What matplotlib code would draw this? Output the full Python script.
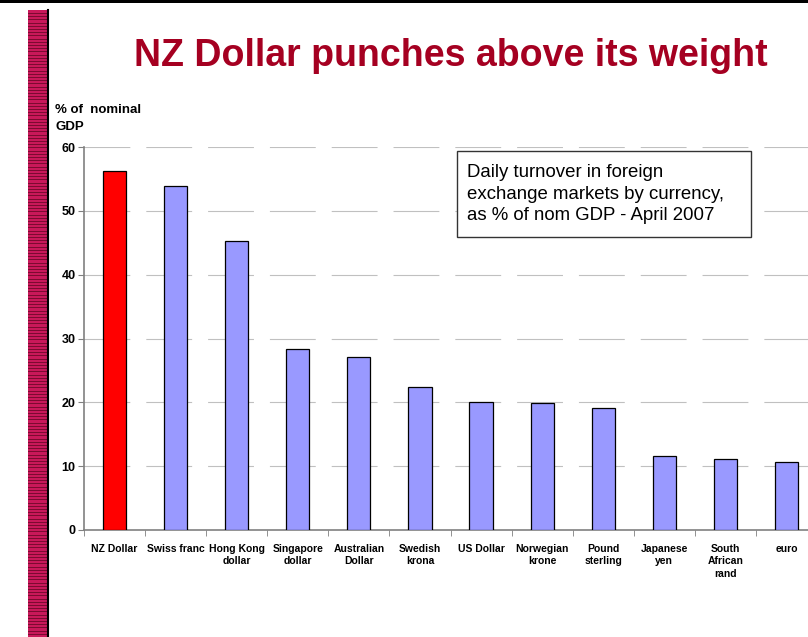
import numpy as np
import matplotlib
matplotlib.use('Agg')
import matplotlib.pyplot as plt
from matplotlib.patches import Rectangle

matplotlib.rcParams['font.family'] = ['Liberation Sans', 'DejaVu Sans']
matplotlib.rcParams['lines.scale_dashes'] = False

# data
currencies = ['NZ Dollar', 'Swiss franc', 'Hong Kong\ndollar', 'Singapore\ndollar',
              'Australian\nDollar', 'Swedish\nkrona', 'US Dollar', 'Norwegian\nkrone',
              'Pound\nsterling', 'Japanese\nyen', 'South\nAfrican\nrand', 'euro']
turnover = [56.2, 53.9, 45.2, 28.4, 27.1, 22.4, 20.1, 19.9, 19.1, 11.6, 11.1, 10.7]
bar_colors = ['#FF0000'] + ['#9999FF'] * 11
yticks = [0, 10, 20, 30, 40, 50, 60]

W, H = 808, 637
fig = plt.figure(figsize=(W / 100, H / 100), dpi=100)

# decorative stripe on the left
sax = fig.add_axes([28 / W, 0, 20 / W, (H - 10) / H])
sax.set_facecolor('#C8185A')
for yy in np.arange(0, 1, 3.2 / (H - 10)):
    sax.axhline(yy, color='#7A0A30', lw=0.7)
sax.set_xticks([])
sax.set_yticks([])
for s in ['top', 'left', 'bottom']:
    sax.spines[s].set_visible(False)
sax.spines['right'].set_color('black')
sax.spines['right'].set_linewidth(1.5)

# black line on top
fig.add_artist(Rectangle((0, 1 - 3 / H), 1, 3 / H, transform=fig.transFigure,
                         facecolor='black', edgecolor='none'))

ax = fig.add_axes([84 / W, (H - 530) / H, 733 / W, 383 / H])
x = np.arange(len(currencies))
ax.bar(x, turnover, width=0.38, color=bar_colors, edgecolor='black', linewidth=0.9, zorder=3)
ax.set_xlim(-0.5, len(currencies) - 0.5)
ax.set_ylim(0, 60)
ax.set_yticks(yticks)
ax.set_yticklabels([str(v) for v in yticks], fontweight='bold', fontsize=9)
for v in yticks[1:]:
    ax.axhline(v, color='#C0C0C0', lw=0.8, dashes=(33, 11.5), zorder=1)

ax.set_xticks(x)
ax.set_xticklabels(currencies, fontweight='bold', fontsize=7.5, linespacing=1.3, va='top')
ax.tick_params(axis='x', which='major', length=0, pad=10)
ax.set_xticks(np.arange(-0.5, len(currencies), 1), minor=True)
ax.tick_params(axis='x', which='minor', length=4, color='#808080', direction='out')
ax.tick_params(axis='y', length=4, color='#808080', direction='out', pad=2)
for s in ['top', 'right']:
    ax.spines[s].set_visible(False)
ax.spines['left'].set_color('#808080')
ax.spines['bottom'].set_color('#808080')
ax.spines['left'].set_linewidth(1.2)
ax.spines['bottom'].set_linewidth(1.2)

fig.text(55 / W, 1 - 104 / H, '% of  nominal\nGDP', fontsize=9.5, fontweight='bold',
         va='top', ha='left', linespacing=1.6)

fig.text(451 / W, 1 - 56 / H, 'NZ Dollar punches above its weight', fontsize=27,
         fontweight='bold', color='#A50021', ha='center', va='center')

# annotation box
fig.add_artist(Rectangle((457 / W, 1 - 237 / H), 294 / W, 86 / H, transform=fig.transFigure,
                         facecolor='white', edgecolor='#333333', linewidth=1, zorder=5))
fig.text(467 / W, 1 - 164 / H,
         'Daily turnover in foreign\nexchange markets by currency,\nas % of nom GDP - April 2007',
         fontsize=13.4, ha='left', va='top', linespacing=1.36, zorder=6)

fig.savefig('out.png', dpi=100)
